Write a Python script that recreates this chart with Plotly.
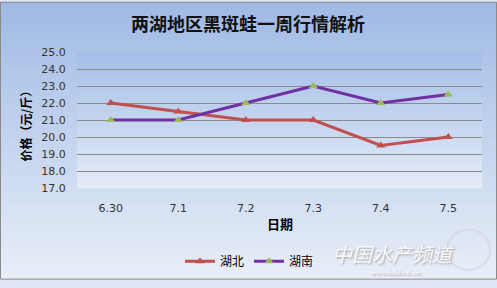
import plotly.graph_objects as go

dates = ["6.30", "7.1", "7.2", "7.3", "7.4", "7.5"]
hubei = [22.0, 21.5, 21.0, 21.0, 19.5, 20.0]
hunan = [21.0, 21.0, 22.0, 23.0, 22.0, 22.5]
y_ticks = [17, 18, 19, 20, 21, 22, 23, 24, 25]

W, H = 497, 288
L, R, T, B = 77, 15, 52, 95
pw, ph = W - L - R, H - T - B

def px_x(p):
    return (p - L) / pw

def px_y(p):
    return (H - B - p) / ph

def mix(c1, c2, t):
    return "rgb(%d,%d,%d)" % tuple(round(a + (b - a) * t) for a, b in zip(c1, c2))

shapes = []
# page gradient
top_c, bot_c = (160, 186, 228), (232, 238, 248)
n = 48
for i in range(n):
    p0 = H * i / n
    p1 = H * (i + 1) / n + 0.6
    shapes.append(dict(type="rect", xref="paper", yref="paper",
                       x0=px_x(0), x1=px_x(W), y0=px_y(p1), y1=px_y(p0),
                       fillcolor=mix(top_c, bot_c, i / (n - 1)), line_width=0, layer="below"))
# plot-area gradient
pt, pb = (166, 191, 232), (228, 235, 247)
m = 30
for i in range(m):
    p0 = T + ph * i / m
    p1 = T + ph * (i + 1) / m + 0.6
    shapes.append(dict(type="rect", xref="paper", yref="paper",
                       x0=0, x1=1, y0=px_y(p1), y1=px_y(p0),
                       fillcolor=mix(pt, pb, i / (m - 1)), line_width=0, layer="below"))
# globe watermark
shapes.append(dict(type="circle", xref="paper", yref="paper",
                   x0=px_x(447), x1=px_x(490), y0=px_y(278), y1=px_y(236),
                   line=dict(color="rgba(205,208,215,0.55)", width=2), layer="below"))
# outer border
shapes.append(dict(type="rect", xref="paper", yref="paper",
                   x0=px_x(0.5), x1=px_x(W - 0.5), y0=px_y(H - 0.5), y1=px_y(0.5),
                   line=dict(color="#8a8a8a", width=1), fillcolor="rgba(0,0,0,0)", layer="above"))

fig = go.Figure()
fig.add_trace(go.Scatter(x=dates, y=hubei, name="湖北", mode="lines+markers",
                         line=dict(color="#C0504D", width=3),
                         marker=dict(symbol="triangle-up", size=8, color="#C0504D")))
fig.add_trace(go.Scatter(x=dates, y=hunan, name="湖南", mode="lines+markers",
                         line=dict(color="#7030A0", width=3),
                         marker=dict(symbol="triangle-up", size=8, color="#9BBB59")))

fig.update_layout(
    width=W, height=H,
    margin=dict(l=L, r=R, t=T, b=B),
    paper_bgcolor="#dfe7f5",
    plot_bgcolor="rgba(0,0,0,0)",
    shapes=shapes,
    showlegend=True,
    legend=dict(orientation="h", x=px_x(180), xanchor="left", y=px_y(269), yanchor="middle",
                font=dict(family="Noto Sans CJK SC", size=12, color="#000"),
                bgcolor="rgba(0,0,0,0)", itemwidth=30, tracegroupgap=0),
    xaxis=dict(type="category", range=[-0.5, 5.5], showgrid=False, zeroline=False,
               showline=False, ticks="outside", ticklen=10, tickcolor="rgba(0,0,0,0)",
               tickfont=dict(family="DejaVu Sans", size=11, color="#333")),
    yaxis=dict(range=[17, 25], tickvals=y_ticks, tickformat=".1f",
               showgrid=True, gridcolor="#8a8a8a", gridwidth=1, zeroline=False,
               showline=False, ticks="outside", ticklen=8, tickcolor="rgba(0,0,0,0)",
               tickfont=dict(family="DejaVu Sans", size=11, color="#333")),
    annotations=[
        dict(text="两湖地区黑斑蛙一周行情解析", xref="paper", yref="paper",
             x=px_x(248), y=px_y(22), xanchor="center", yanchor="middle", showarrow=False,
             font=dict(family="Noto Sans CJK SC", size=18, color="#111", weight="bold")),
        dict(text="日期", xref="paper", yref="paper",
             x=px_x(280), y=px_y(230), xanchor="center", yanchor="middle", showarrow=False,
             font=dict(family="Noto Sans CJK SC", size=13, color="#000", weight="bold")),
        dict(text="价格（元/斤）", xref="paper", yref="paper", textangle=-90,
             x=px_x(25), y=px_y(125), xanchor="center", yanchor="middle", showarrow=False,
             font=dict(family="Noto Sans CJK SC", size=12, color="#000", weight="bold")),
        dict(text="中国水产频道", xref="paper", yref="paper",
             x=px_x(393), y=px_y(261), xanchor="center", yanchor="middle", showarrow=False,
             font=dict(family="Noto Sans CJK SC", size=20, color="rgba(255,255,255,0.9)",
                       style="italic", shadow="1px 1px 2px #9a9a9a")),
        dict(text="www.fishfirst.cn", xref="paper", yref="paper",
             x=px_x(395), y=px_y(281), xanchor="center", yanchor="middle", showarrow=False,
             font=dict(family="DejaVu Serif", size=6, color="rgba(255,255,255,0.9)",
                       shadow="1px 1px 1px #9a9a9a")),
    ],
)

fig.write_html("out.html")
